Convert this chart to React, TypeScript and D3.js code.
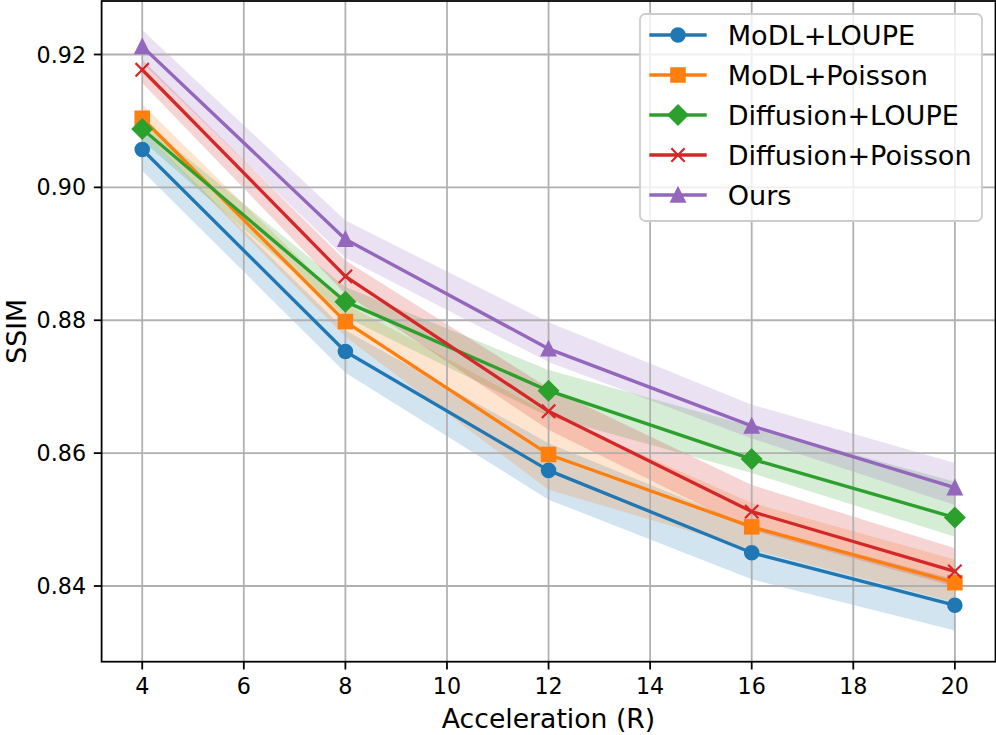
import React, { useEffect, useRef } from 'react'
import * as d3 from 'd3'

// acceleration factors on the x axis
const accel = [4, 8, 12, 16, 20]

const modlLoupe = [0.9057, 0.8753, 0.8574, 0.8450, 0.8371]
const modlLoupeLo = [0.9025, 0.8721, 0.8530, 0.8410, 0.8333]
const modlLoupeHi = [0.9085, 0.8785, 0.8615, 0.8490, 0.8410]

const modlPoisson = [0.9104, 0.8798, 0.8598, 0.8489, 0.8405]
const modlPoissonLo = [0.9085, 0.8775, 0.8545, 0.8455, 0.8375]
const modlPoissonHi = [0.9125, 0.8825, 0.8660, 0.8525, 0.8440]

const diffLoupe = [0.9088, 0.8828, 0.8694, 0.8591, 0.8503]
const diffLoupeLo = [0.9070, 0.8805, 0.8655, 0.8570, 0.8474]
const diffLoupeHi = [0.9100, 0.8850, 0.8725, 0.8640, 0.8557]

const diffPoisson = [0.9177, 0.8866, 0.8663, 0.8512, 0.8422]
const diffPoissonLo = [0.9157, 0.8840, 0.8635, 0.8484, 0.8399]
const diffPoissonHi = [0.9192, 0.8890, 0.8698, 0.8552, 0.8457]

const ours = [0.9212, 0.8922, 0.8757, 0.8641, 0.8548]
const oursLo = [0.9187, 0.8894, 0.8737, 0.8622, 0.8522]
const oursHi = [0.9237, 0.8950, 0.8797, 0.8673, 0.8585]

const xTicks = [4, 6, 8, 10, 12, 14, 16, 18, 20]
const yTicks = [0.84, 0.86, 0.88, 0.90, 0.92]

type Marker = 'o' | 's' | 'D' | 'x' | '^'

const series: { name: string; color: string; marker: Marker; y: number[]; lo: number[]; hi: number[] }[] = [
    { name: 'MoDL+LOUPE', color: '#1f77b4', marker: 'o', y: modlLoupe, lo: modlLoupeLo, hi: modlLoupeHi },
    { name: 'MoDL+Poisson', color: '#ff7f0e', marker: 's', y: modlPoisson, lo: modlPoissonLo, hi: modlPoissonHi },
    { name: 'Diffusion+LOUPE', color: '#2ca02c', marker: 'D', y: diffLoupe, lo: diffLoupeLo, hi: diffLoupeHi },
    { name: 'Diffusion+Poisson', color: '#d62728', marker: 'x', y: diffPoisson, lo: diffPoissonLo, hi: diffPoissonHi },
    { name: 'Ours', color: '#9467bd', marker: '^', y: ours, lo: oursLo, hi: oursHi },
]

const W = 996
const H = 735
const S = 160 / 72 // points -> px
const FONT = '"DejaVu Sans", sans-serif'

const drawMarker = (g: d3.Selection<SVGGElement, unknown, null, undefined>, m: Marker, cx: number, cy: number, color: string) => {
    const ms = 6 * S
    const h = ms / 2
    const ew = 1 * S
    if (m === 'o') {
        g.append('circle').attr('cx', cx).attr('cy', cy).attr('r', h)
            .attr('fill', color).attr('stroke', color).attr('stroke-width', ew)
    } else if (m === 's') {
        g.append('rect').attr('x', cx - h).attr('y', cy - h).attr('width', ms).attr('height', ms)
            .attr('fill', color).attr('stroke', color).attr('stroke-width', ew)
    } else if (m === 'D') {
        const d = ms / Math.SQRT2
        g.append('path').attr('d', `M${cx},${cy - d}L${cx + d},${cy}L${cx},${cy + d}L${cx - d},${cy}Z`)
            .attr('fill', color).attr('stroke', color).attr('stroke-width', ew).attr('stroke-linejoin', 'miter')
    } else if (m === '^') {
        g.append('path').attr('d', `M${cx},${cy - h}L${cx + h},${cy + h}L${cx - h},${cy + h}Z`)
            .attr('fill', color).attr('stroke', color).attr('stroke-width', ew).attr('stroke-linejoin', 'miter')
    } else {
        g.append('path').attr('d', `M${cx - h},${cy - h}L${cx + h},${cy + h}M${cx - h},${cy + h}L${cx + h},${cy - h}`)
            .attr('fill', 'none').attr('stroke', color).attr('stroke-width', ew)
    }
}

const Chart: React.FC = () => {
    const svgRef = useRef<SVGSVGElement>(null)

    useEffect(() => {
        if (!svgRef.current) return
        const svg = d3.select(svgRef.current)
        svg.selectAll('*').remove()

        const left = 101.6, right = 995.5, top = 1, bottom = 661.7

        const x = d3.scaleLinear().domain([3.2, 20.8]).range([left, right])
        const y = d3.scaleLinear().domain([0.84, 0.92]).range([586, 54.5])

        const root = svg.append('g')

        // bands (zorder 1)
        const area = d3.area<number>()
            .x((_, i) => x(accel[i]))
            .y0(d => y(d))
        series.forEach(s => {
            root.append('path')
                .datum(s.lo)
                .attr('d', area.y1((_, i) => y(s.hi[i])))
                .attr('fill', s.color)
                .attr('fill-opacity', 0.2)
        })

        // grid
        const grid = root.append('g')
        xTicks.forEach(t => {
            grid.append('line').attr('x1', x(t)).attr('x2', x(t)).attr('y1', top).attr('y2', bottom)
                .attr('stroke', '#b0b0b0').attr('stroke-width', 0.8 * S)
        })
        yTicks.forEach(t => {
            grid.append('line').attr('x1', left).attr('x2', right).attr('y1', y(t)).attr('y2', y(t))
                .attr('stroke', '#b0b0b0').attr('stroke-width', 0.8 * S)
        })

        // lines + markers
        const line = d3.line<number>().x((_, i) => x(accel[i])).y(d => y(d))
        series.forEach(s => {
            const g = root.append('g')
            g.append('path').datum(s.y).attr('d', line)
                .attr('fill', 'none').attr('stroke', s.color).attr('stroke-width', 1.5 * S)
                .attr('stroke-linejoin', 'round').attr('stroke-linecap', 'square')
            s.y.forEach((v, i) => drawMarker(g, s.marker, x(accel[i]), y(v), s.color))
        })

        // spines
        root.append('rect').attr('x', left).attr('y', top).attr('width', right - left).attr('height', bottom - top)
            .attr('fill', 'none').attr('stroke', '#000').attr('stroke-width', 0.8 * S)

        // ticks
        const tl = 3.5 * S
        const ax = root.append('g').attr('font-family', FONT).attr('font-size', 10 * S).attr('fill', '#000')
        xTicks.forEach(t => {
            ax.append('line').attr('x1', x(t)).attr('x2', x(t)).attr('y1', bottom).attr('y2', bottom + tl)
                .attr('stroke', '#000').attr('stroke-width', 0.8 * S)
            ax.append('text').attr('x', x(t)).attr('y', 694.3).attr('text-anchor', 'middle').text(d3.format('d')(t))
        })
        yTicks.forEach(t => {
            ax.append('line').attr('x1', left - tl).attr('x2', left).attr('y1', y(t)).attr('y2', y(t))
                .attr('stroke', '#000').attr('stroke-width', 0.8 * S)
            ax.append('text').attr('x', left - tl - 3.5 * S).attr('y', y(t) + 8.1).attr('text-anchor', 'end')
                .text(d3.format('.2f')(t))
        })

        // axis labels
        root.append('text').attr('x', (left + right) / 2).attr('y', 727.7)
            .attr('text-anchor', 'middle').attr('font-family', FONT).attr('font-size', 12 * S)
            .text('Acceleration (R)')
        root.append('text').attr('transform', `translate(26,${(top + bottom) / 2}) rotate(-90)`)
            .attr('text-anchor', 'middle').attr('font-family', FONT).attr('font-size', 12 * S)
            .text('SSIM')

        // legend
        const lg = root.append('g')
        lg.append('rect').attr('x', 640).attr('y', 14).attr('width', 342).attr('height', 207).attr('rx', 5.3)
            .attr('fill', '#fff').attr('fill-opacity', 0.8).attr('stroke', '#cccccc').attr('stroke-width', 0.8 * S)
        series.forEach((s, i) => {
            const cy = 35 + i * 40
            const g = lg.append('g')
            g.append('line').attr('x1', 649.3).attr('x2', 706.7).attr('y1', cy).attr('y2', cy)
                .attr('stroke', s.color).attr('stroke-width', 1.5 * S)
            drawMarker(g, s.marker, 678, cy, s.color)
            g.append('text').attr('x', 727.7).attr('y', cy + 9.7)
                .attr('font-family', FONT).attr('font-size', 12.2 * S).text(s.name)
        })
    }, [])

    return <svg ref={svgRef} width={W} height={H} style={{ position: 'absolute', left: 0, top: 0, background: '#fff' }} />
}

export default function App() {
    return <Chart />
}
